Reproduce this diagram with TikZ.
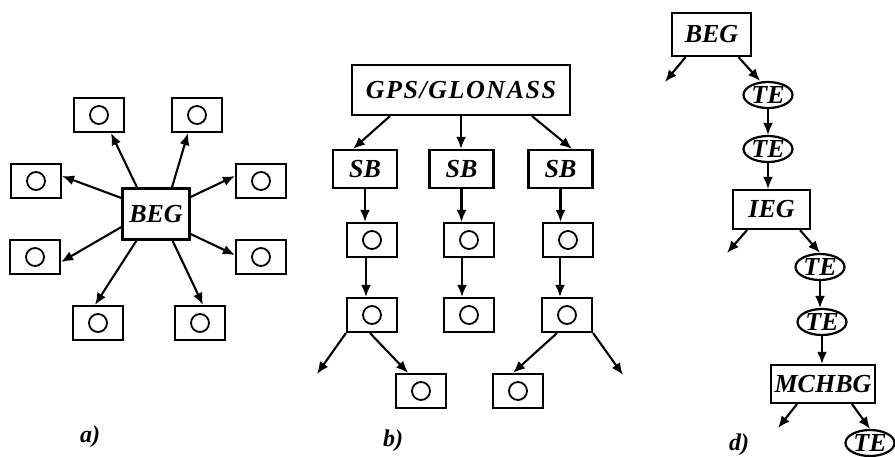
\documentclass[tikz,border=0pt]{standalone}
\usepackage{fontspec}
\setmainfont{Liberation Serif}
\usetikzlibrary{arrows.meta,calc,shapes.geometric}
\begin{document}
\begin{tikzpicture}[x=1pt,y=-1pt,
  every node/.style={font=\fontsize{26}{28}\selectfont\bfseries\itshape},
  lbox/.style={draw,line width=2.2pt,inner sep=0pt},
  obox/.style={draw,line width=2.2pt,minimum width=50pt,minimum height=34pt,inner sep=0pt,
    path picture={\draw[line width=1.8pt] (path picture bounding box.center) circle (9pt);}},
  tebox/.style={draw,ellipse,line width=2.2pt,inner sep=0pt,minimum width=49pt,minimum height=26pt},
  arr/.style={line width=2.1pt,-{Latex[length=12pt,width=10pt]}},
  lab/.style={font=\fontsize{24}{26}\selectfont\bfseries\itshape}
]
\useasboundingbox (0,0) rectangle (895,457);

% ---------- a) ----------
\node[lbox,minimum width=67pt,minimum height=51pt] (beg) at (156,214) {BEG};
\node[obox] (oTL) at (99,115) {};
\node[obox] (oTR) at (197,115) {};
\node[obox] (oLU) at (36,181) {};
\node[obox] (oRU) at (261,181) {};
\node[obox] (oLL) at (35,257) {};
\node[obox] (oRL) at (261,257) {};
\node[obox] (oBL) at (98,323) {};
\node[obox] (oBR) at (200,323) {};
\draw[arr] ([xshift=-19pt]beg.north) -- ([xshift=12pt]oTL.south);
\draw[arr] ([xshift=16pt]beg.north) -- ([xshift=-9pt]oTR.south);
\draw[arr] ([yshift=16pt]beg.west) -- ([yshift=5pt]oLU.east);
\draw[arr] ([yshift=17pt]beg.east) -- ([yshift=5pt]oRU.west);
\draw[arr] ([yshift=-13pt]beg.west) -- ([yshift=-5pt]oLL.east);
\draw[arr] ([yshift=-20pt]beg.east) -- ([yshift=2pt]oRL.west);
\draw[arr] ([xshift=-19.5pt]beg.south) -- ([xshift=-3pt]oBL.north);
\draw[arr] ([xshift=16.5pt]beg.south) -- ([xshift=3pt]oBR.north);
\node[lab] (la) at (90,437) {a)};

% ---------- b) ----------
\node[lbox,minimum width=218pt,minimum height=50pt] (gps) at (461,90)
  {\addfontfeatures{LetterSpace=6}GPS/GLONASS};
\node[lbox,minimum width=64pt,minimum height=38pt] (sbL) at (365,169) {SB};
\node[lbox,minimum width=64pt,minimum height=38pt] (sbM) at (461.5,169) {SB};
\node[lbox,minimum width=64pt,minimum height=38pt] (sbR) at (560.5,169) {SB};
\node[obox] (c1L) at (372,240) {};
\node[obox] (c1M) at (469,240) {};
\node[obox] (c1R) at (568,240) {};
\node[obox] (c2L) at (372,315) {};
\node[obox] (c2M) at (469,315) {};
\node[obox] (c2R) at (567,315) {};
\node[obox] (c3L) at (421,391) {};
\node[obox] (c3R) at (518,391) {};
\coordinate (fL) at (317,374);
\coordinate (fR) at (623,375);
\draw[arr] ([xshift=-71pt]gps.south) -- ([xshift=-12pt]sbL.north);
\draw[arr] (gps.south) -- (gps.south |- sbM.north);
\draw[arr] ([xshift=71pt]gps.south) -- ([xshift=11.5pt]sbR.north);
\draw[arr] (sbL.south) -- (sbL.south |- c1L.north);
\draw[arr] (sbM.south) -- (sbM.south |- c1M.north);
\draw[arr] (sbR.south) -- (sbR.south |- c1R.north);
\draw[arr] ([xshift=-6pt]c1L.south) -- ([xshift=-6pt]c2L.north);
\draw[arr] ([xshift=-7pt]c1M.south) -- ([xshift=-7pt]c2M.north);
\draw[arr] ([xshift=-8pt]c1R.south) -- ([xshift=-7pt]c2R.north);
\draw[arr] (c2L.south west) -- (fL);
\draw[arr] ([xshift=-2pt]c2L.south) -- ([xshift=-13pt]c3L.north);
\draw[arr] ([xshift=-10pt]c2R.south) -- ([xshift=-5pt]c3R.north);
\draw[arr] (c2R.south east) -- (fR);
\node[lab] (lb) at (393,441) {b)};

% ---------- d) ----------
\node[lbox,minimum width=79pt,minimum height=43pt] (dbeg) at (711.5,34.5) {BEG};
\node[tebox] (te1) at (768,95) {TE};
\node[tebox] (te2) at (768,149) {TE};
\node[lbox,minimum width=77pt,minimum height=39pt] (ieg) at (771.5,209.5) {IEG};
\node[tebox] (te3) at (820,267) {TE};
\node[tebox] (te4) at (822,322) {TE};
\node[lbox,minimum width=104pt,minimum height=38pt] (mch) at (823,384) {MCHBG};
\node[tebox] (te5) at (870,443) {TE};
\coordinate (f1) at (665,82);
\coordinate (f2) at (727,253);
\coordinate (f3) at (778,428);
\draw[arr] ([xshift=-26pt]dbeg.south) -- (f1);
\draw[arr] ([xshift=27pt]dbeg.south) -- ([xshift=-8pt]te1.north);
\draw[arr] (te1.south) -- (te2.north);
\draw[arr] (te2.south) -- (te2.south |- ieg.north);
\draw[arr] ([xshift=-24.5pt]ieg.south) -- (f2);
\draw[arr] ([xshift=28.5pt]ieg.south) -- (te3.north);
\draw[arr] (te3.south) -- (te3.south |- te4.north);
\draw[arr] (te4.south) -- (te4.south |- mch.north);
\draw[arr] ([xshift=-26pt]mch.south) -- (f3);
\draw[arr] ([xshift=29pt]mch.south) -- (te5.north);
\node[lab] (ld) at (739,445) {d)};
\end{tikzpicture}
\end{document}
